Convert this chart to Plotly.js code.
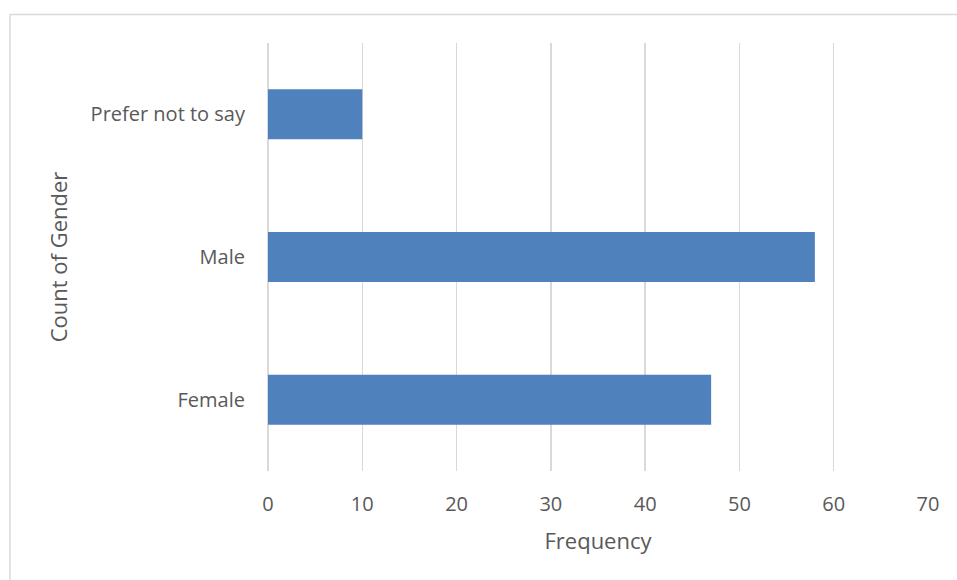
<!DOCTYPE html>
<html>
<head>
<meta charset="utf-8">
<script src="https://cdn.plot.ly/plotly-3.0.1.min.js"></script>
<style>html,body{margin:0;padding:0;background:#fff;}#chart{width:957px;height:580px;}</style>
</head>
<body>
<div id="chart"></div>
<script>
const categories = ["Female", "Male", "Prefer not to say"];
const counts = [47, 58, 10];
const xTicks = [0, 10, 20, 30, 40, 50, 60, 70];

const FONT = "Open Sans, Lato, sans-serif";
const TXT = "#595959";

const trace = {
  type: "bar",
  orientation: "h",
  y: categories,
  x: counts,
  width: 0.35,
  marker: {color: "#4f81bd", line: {width: 0}},
  hoverinfo: "x+y"
};

const layout = {
  width: 957,
  height: 580,
  margin: {l: 268, r: 29, t: 43, b: 109},
  paper_bgcolor: "#ffffff",
  plot_bgcolor: "#ffffff",
  showlegend: false,
  font: {family: FONT, color: TXT, size: 20},
  xaxis: {
    range: [0, 70],
    tickvals: xTicks,
    ticktext: xTicks.map(String),
    showgrid: true,
    gridcolor: "#d9d9d9",
    gridwidth: 1.5,
    zeroline: true,
    zerolinecolor: "#d9d9d9",
    zerolinewidth: 1.5,
    showline: false,
    ticks: "",
    ticklabelstandoff: 19,
    tickfont: {family: FONT, size: 20, color: TXT},
    title: {text: "Frequency", font: {family: FONT, size: 22, color: TXT}, standoff: 17}
  },
  yaxis: {
    type: "category",
    range: [-0.5, 2.5],
    showgrid: false,
    zeroline: false,
    showline: false,
    ticks: "",
    ticklabelstandoff: 22,
    tickfont: {family: FONT, size: 20, color: TXT},
    title: {text: "Count of Gender", font: {family: FONT, size: 22, color: TXT}, standoff: 16}
  },
  shapes: [
    {type: "line", xref: "paper", yref: "paper", x0: -0.391, x1: 1.1, y0: 1.0667, y1: 1.0667,
     line: {color: "#d9d9d9", width: 1.5}},
    {type: "line", xref: "paper", yref: "paper", x0: -0.391, x1: -0.391, y0: 1.0667, y1: -0.3,
     line: {color: "#d9d9d9", width: 1.5}}
  ]
};

Plotly.newPlot("chart", [trace], layout, {displayModeBar: false, staticPlot: true});
</script>
</body>
</html>
